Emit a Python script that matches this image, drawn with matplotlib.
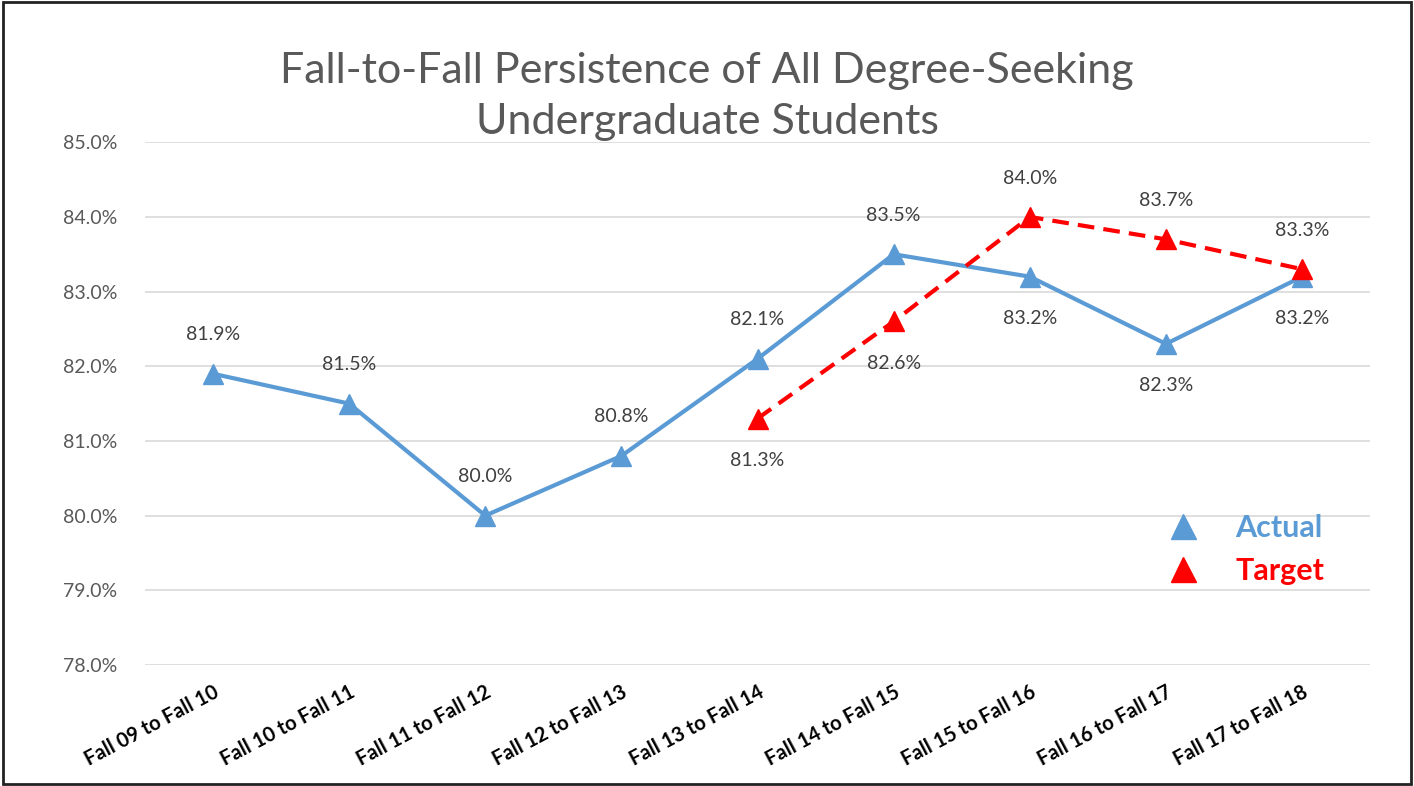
import matplotlib
matplotlib.use("Agg")
import matplotlib.pyplot as plt
from matplotlib.lines import Line2D
from matplotlib.patches import Rectangle
from matplotlib.ticker import FuncFormatter
import numpy as np

categories = ["Fall 09 to Fall 10", "Fall 10 to Fall 11", "Fall 11 to Fall 12",
              "Fall 12 to Fall 13", "Fall 13 to Fall 14", "Fall 14 to Fall 15",
              "Fall 15 to Fall 16", "Fall 16 to Fall 17", "Fall 17 to Fall 18"]
actual = [81.9, 81.5, 80.0, 80.8, 82.1, 83.5, 83.2, 82.3, 83.2]
target = [np.nan, np.nan, np.nan, np.nan, 81.3, 82.6, 84.0, 83.7, 83.3]
actual_label_above = [True, True, True, True, True, True, False, False, False]
target_label_above = [None, None, None, None, False, False, True, True, True]

blue = "#5B9BD5"
red = "#FF0000"
plt.rcParams["font.family"] = ["Lato", "DejaVu Sans"]

fig = plt.figure(figsize=(14.14, 7.86), dpi=100)
ax = fig.add_axes([0.1025, 0.154, 0.8665, 0.665])
x = np.arange(len(categories))

ax.plot(x, actual, color=blue, lw=3, marker="^", markersize=15, zorder=3)
ax.plot(x, target, color=red, lw=3, ls=(0, (4, 2.2)), marker="^", markersize=15, zorder=4)

for i, v in enumerate(actual):
    off = 28 if actual_label_above[i] else -30
    ax.annotate(f"{v:.1f}%", (i, v), xytext=(0, off), textcoords="offset points",
                ha="center", va="center", fontsize=14, color="#404040")
for i, v in enumerate(target):
    if np.isnan(v):
        continue
    off = 28 if target_label_above[i] else -30
    ax.annotate(f"{v:.1f}%", (i, v), xytext=(0, off), textcoords="offset points",
                ha="center", va="center", fontsize=14, color="#404040")

ax.set_xlim(-0.5, len(categories) - 0.5)
ax.set_ylim(78, 85)
ax.set_yticks(np.arange(78, 85.1, 1))
ax.yaxis.set_major_formatter(FuncFormatter(lambda v, p: f"{v:.1f}%"))
ax.grid(axis="y", color="#D9D9D9", lw=1.2)
ax.set_axisbelow(True)
for s in ax.spines.values():
    s.set_visible(False)
ax.tick_params(length=0)
ax.tick_params(axis="y", labelsize=14, labelcolor="#595959", pad=20)
ax.set_xticks(x)
ax.set_xticklabels(categories, rotation=28, ha="right", rotation_mode="anchor",
                   fontsize=14.5, fontweight="bold", color="black")
ax.tick_params(axis="x", pad=12)

fig.text(0.5, 0.877, "Fall-to-Fall Persistence of All Degree-Seeking\nUndergraduate Students",
         ha="center", va="center", fontsize=31, color="#595959", linespacing=1.42)

handles = [Line2D([], [], ls="none", marker="^", markersize=18, color=blue),
           Line2D([], [], ls="none", marker="^", markersize=18, color=red)]
leg = ax.legend(handles, ["Actual", "Target"], loc="lower right",
                bbox_to_anchor=(0.985, 0.1), frameon=False,
                prop={"size": 22, "weight": "bold"}, labelcolor=[blue, red],
                handletextpad=0.7, labelspacing=0.5)

fig.patches.append(Rectangle((0.002, 0.003), 0.996, 0.994, transform=fig.transFigure,
                             fill=False, edgecolor="#222222", lw=2))

fig.savefig("out.png", dpi=100)
